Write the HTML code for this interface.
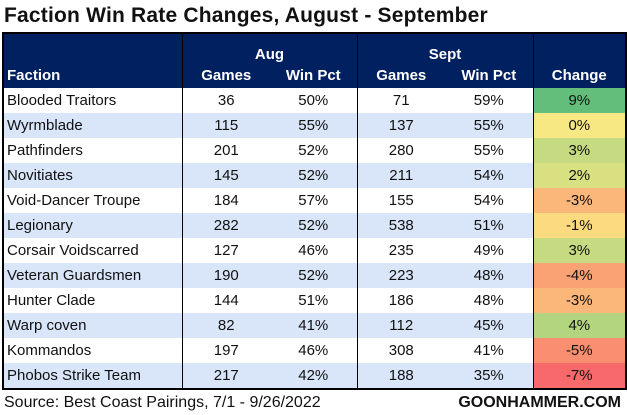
<!DOCTYPE html>
<html><head><meta charset="utf-8"><style>
html,body{margin:0;padding:0;width:627px;height:415px;background:#fff;overflow:hidden}
body{font-family:"Liberation Sans Narrow","Liberation Sans",sans-serif;color:#111;position:relative}
.title{position:absolute;left:4px;top:4px;font-size:21px;font-weight:bold;letter-spacing:0.2px;font-family:"Liberation Sans Narrow","Liberation Sans",sans-serif;}
table{position:absolute;left:2px;top:32px;border-collapse:collapse;table-layout:fixed;width:623px;border:2px solid #000}
td,th{padding:0;font-size:15px;text-align:center;white-space:nowrap;overflow:hidden}
thead th{background:#002060;color:#fff;font-weight:bold;font-size:15px}
thead tr.a th{height:29px;vertical-align:bottom;padding-bottom:0}
thead tr.b th{height:25px}
tbody td{height:25px;line-height:25px}
tbody tr:nth-child(even) td{background:#d9e5f8}
td.f{text-align:left;padding-left:3px}
.l{border-left:1.5px solid #000}
.foot{position:absolute;top:394px;font-size:16px}
</style></head><body>
<div class="title">Faction Win Rate Changes, August - September</div>
<table>
<colgroup><col style="width:179px"><col style="width:88px"><col style="width:87px"><col style="width:88px"><col style="width:88px"><col style="width:93px"></colgroup>
<thead>
<tr class="a"><th></th><th colspan="2" class="l">Aug</th><th colspan="2" class="l">Sept</th><th class="l"></th></tr>
<tr class="b"><th style="text-align:left;padding-left:3px">Faction</th><th class="l">Games</th><th>Win Pct</th><th class="l">Games</th><th>Win Pct</th><th class="l">Change</th></tr>
</thead>
<tbody>
<tr><td class="f">Blooded Traitors</td><td class="l">36</td><td>50%</td><td class="l">71</td><td>59%</td><td class="l" style="background:#63be7b">9%</td></tr>
<tr><td class="f">Wyrmblade</td><td class="l">115</td><td>55%</td><td class="l">137</td><td>55%</td><td class="l" style="background:#f8e884">0%</td></tr>
<tr><td class="f">Pathfinders</td><td class="l">201</td><td>52%</td><td class="l">280</td><td>55%</td><td class="l" style="background:#c6da81">3%</td></tr>
<tr><td class="f">Novitiates</td><td class="l">145</td><td>52%</td><td class="l">211</td><td>54%</td><td class="l" style="background:#d9e082">2%</td></tr>
<tr><td class="f">Void-Dancer Troupe</td><td class="l">184</td><td>57%</td><td class="l">155</td><td>54%</td><td class="l" style="background:#fbb679">-3%</td></tr>
<tr><td class="f">Legionary</td><td class="l">282</td><td>52%</td><td class="l">538</td><td>51%</td><td class="l" style="background:#fcdb80">-1%</td></tr>
<tr><td class="f">Corsair Voidscarred</td><td class="l">127</td><td>46%</td><td class="l">235</td><td>49%</td><td class="l" style="background:#c6da81">3%</td></tr>
<tr><td class="f">Veteran Guardsmen</td><td class="l">190</td><td>52%</td><td class="l">223</td><td>48%</td><td class="l" style="background:#faa273">-4%</td></tr>
<tr><td class="f">Hunter Clade</td><td class="l">144</td><td>51%</td><td class="l">186</td><td>48%</td><td class="l" style="background:#fbb679">-3%</td></tr>
<tr><td class="f">Warp coven</td><td class="l">82</td><td>41%</td><td class="l">112</td><td>45%</td><td class="l" style="background:#b4d57f">4%</td></tr>
<tr><td class="f">Kommandos</td><td class="l">197</td><td>46%</td><td class="l">308</td><td>41%</td><td class="l" style="background:#f98f70">-5%</td></tr>
<tr><td class="f">Phobos Strike Team</td><td class="l">217</td><td>42%</td><td class="l">188</td><td>35%</td><td class="l" style="background:#f8696b">-7%</td></tr>
</tbody>
</table>
<div class="foot" style="left:4px">Source: Best Coast Pairings, 7/1 - 9/26/2022</div>
<div class="foot" style="right:6px;font-weight:bold">GOONHAMMER.COM</div>
</body></html>
